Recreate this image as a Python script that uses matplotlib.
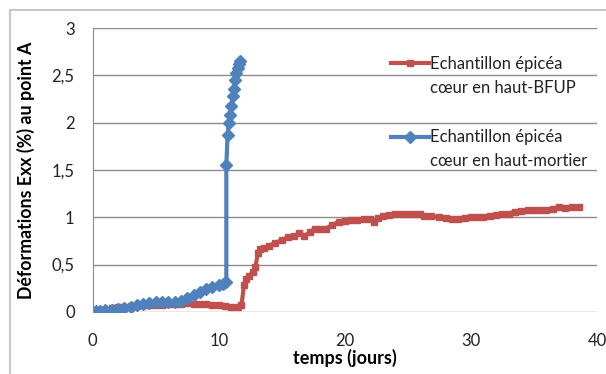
import matplotlib.pyplot as plt
from matplotlib.patches import Rectangle
from matplotlib.lines import Line2D
from matplotlib.legend_handler import HandlerLine2D

plt.rcParams['font.family'] = ['Lato', 'DejaVu Sans']

## Données
temps_bfup = [0, 0.5, 1, 1.5, 2, 2.5, 3, 3.5, 4, 4.5, 5, 5.5, 6, 6.5, 7, 7.5, 8, 8.5, 9, 9.5,
              10, 10.5, 11, 11.5, 11.8, 12, 12.2, 12.4, 12.7, 12.9, 13.1, 13.3, 13.6, 14, 14.5,
              15, 15.5, 16, 16.4, 16.8, 17.2, 17.6, 18, 18.5, 19, 19.5, 20, 20.5, 21, 21.5, 22,
              22.3, 22.6, 23, 23.5, 24, 24.5, 25, 25.5, 26, 26.3, 26.8, 27.5, 28, 28.5, 29, 29.5,
              30, 30.5, 31, 31.5, 32, 32.5, 33, 33.5, 34, 34.5, 35, 35.5, 36, 36.5, 37, 37.5, 38, 38.6]
exx_bfup = [0.0, 0.01, 0.02, 0.04, 0.05, 0.05, 0.06, 0.06, 0.07, 0.07, 0.07, 0.07, 0.08, 0.08, 0.08,
            0.09, 0.08, 0.08, 0.08, 0.07, 0.07, 0.06, 0.05, 0.05, 0.07, 0.28, 0.35, 0.38, 0.42, 0.47,
            0.62, 0.66, 0.68, 0.70, 0.73, 0.76, 0.79, 0.80, 0.83, 0.80, 0.84, 0.88, 0.88, 0.88, 0.92,
            0.95, 0.96, 0.97, 0.97, 0.98, 0.98, 0.95, 0.99, 1.01, 1.02, 1.03, 1.04, 1.04, 1.03, 1.04,
            1.01, 1.01, 1.00, 0.99, 0.98, 0.98, 0.99, 1.00, 1.00, 1.00, 1.01, 1.02, 1.03, 1.04, 1.06,
            1.07, 1.08, 1.08, 1.08, 1.08, 1.09, 1.11, 1.10, 1.11, 1.11]

temps_mortier = [0, 0.3, 0.6, 1, 1.5, 2, 2.5, 3, 3.5, 4, 4.5, 5, 5.5, 6, 6.5, 7, 7.5, 8, 8.5, 9,
                 9.5, 10, 10.3, 10.6, 10.6, 10.7, 10.8, 10.9, 11.0, 11.1, 11.2, 11.3, 11.4, 11.5,
                 11.6, 11.7]
exx_mortier = [0.0, 0.01, 0.01, 0.02, 0.02, 0.03, 0.04, 0.05, 0.07, 0.08, 0.09, 0.10, 0.11, 0.11,
               0.11, 0.12, 0.15, 0.18, 0.21, 0.24, 0.26, 0.28, 0.30, 0.32, 1.55, 1.87, 2.0, 2.08,
               2.18, 2.28, 2.36, 2.45, 2.52, 2.58, 2.62, 2.65]

yticks = [0, 0.5, 1, 1.5, 2, 2.5, 3]
ytick_labels = ['0', '0,5', '1', '1,5', '2', '2,5', '3']
xticks = [0, 10, 20, 30, 40]


## Poignée de légende alignée sur la première ligne du texte
class HandlerHaut(HandlerLine2D):
    def create_artists(self, legend, orig_handle, xdescent, ydescent, width, height, fontsize, trans):
        return super().create_artists(legend, orig_handle, xdescent, ydescent - 1.6 * fontsize,
                                      width, height, fontsize, trans)


## Figure
fig = plt.figure(figsize=(6.06, 3.74), dpi=100)
ax = fig.add_axes([0.153, 0.166, 0.832, 0.759])

ax.plot(temps_bfup, exx_bfup, color='#C0504D', lw=3, marker='s', ms=4.5,
        label='Echantillon épicéa\ncœur en haut-BFUP')
ax.plot(temps_mortier, exx_mortier, color='#4F81BD', lw=3, marker='D', ms=6,
        label='Echantillon épicéa\ncœur en haut-mortier')

ax.set_xlim(0, 40)
ax.set_ylim(0, 3)
ax.set_yticks(yticks)
ax.set_yticklabels(ytick_labels)
ax.set_xticks(xticks)
ax.tick_params(length=0, labelsize=12, labelcolor='#222222')
ax.tick_params(axis='y', pad=13)
ax.tick_params(axis='x', pad=15)
ax.grid(axis='y', color='#8c8c8c', lw=1)
ax.set_axisbelow(True)
for s in ['top', 'right', 'bottom']:
    ax.spines[s].set_visible(False)
ax.spines['left'].set_color('#8c8c8c')

ax.set_xlabel('temps (jours)', fontsize=13, fontweight='bold', labelpad=0)
ax.set_ylabel('Déformations Exx (%) au point A', fontsize=12.8, fontweight='bold', labelpad=12)

leg = ax.legend(loc='upper left', bbox_to_anchor=(0.575, 0.93), frameon=False, fontsize=12,
                handlelength=2.3, handletextpad=0.05, labelspacing=2.0, borderpad=0,
                handler_map={Line2D: HandlerHaut()})
for t in leg.get_texts():
    t.set_linespacing(1.6)
    t.set_color('#222222')

## Cadre du graphique
fig.patches.append(Rectangle((10 / 606, -0.1), 1.1, 1.1 - 10 / 374, transform=fig.transFigure,
                             fill=False, edgecolor='#c8c8c8', lw=1.5))

plt.savefig('out.png', dpi=100)
